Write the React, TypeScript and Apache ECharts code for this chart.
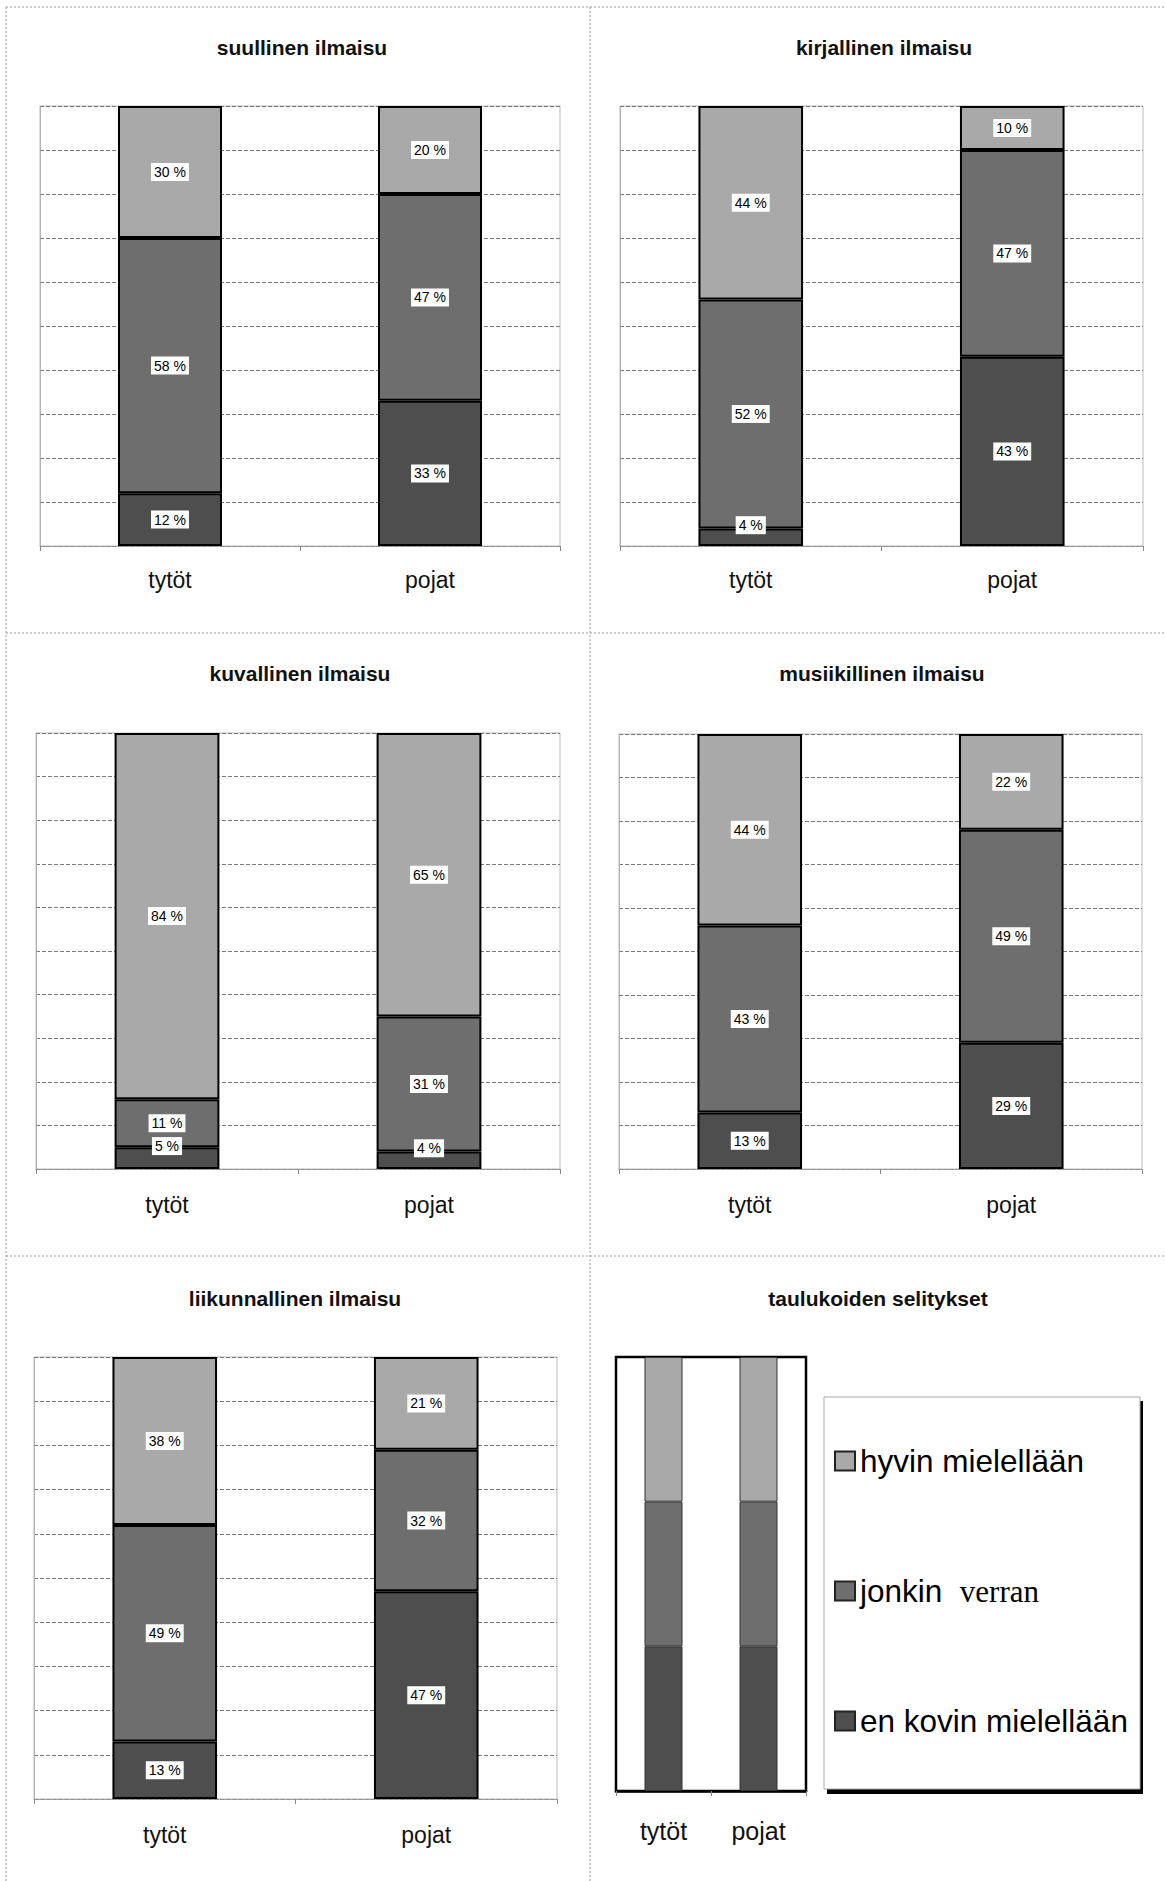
import React, { useEffect, useRef } from "react";
import * as echarts from "echarts";

// ---- data ----
const categories = ["tytöt", "pojat"];
const seriesNames = ["hyvin mielellään", "jonkin verran", "en kovin mielellään"];
const panelTitles = [
  "suullinen ilmaisu",
  "kirjallinen ilmaisu",
  "kuvallinen ilmaisu",
  "musiikillinen ilmaisu",
  "liikunnallinen ilmaisu",
  "taulukoiden selitykset",
];
// [tytöt, pojat] per panel
const suullinenHyvin = [30, 20];
const suullinenJonkin = [58, 47];
const suullinenEnKovin = [12, 33];
const kirjallinenHyvin = [44, 10];
const kirjallinenJonkin = [52, 47];
const kirjallinenEnKovin = [4, 43];
const kuvallinenHyvin = [84, 65];
const kuvallinenJonkin = [11, 31];
const kuvallinenEnKovin = [5, 4];
const musiikillinenHyvin = [44, 22];
const musiikillinenJonkin = [43, 49];
const musiikillinenEnKovin = [13, 29];
const liikunnallinenHyvin = [38, 21];
const liikunnallinenJonkin = [49, 32];
const liikunnallinenEnKovin = [13, 47];
const legendSample = [1, 1];

const panelData = [
  [suullinenHyvin, suullinenJonkin, suullinenEnKovin],
  [kirjallinenHyvin, kirjallinenJonkin, kirjallinenEnKovin],
  [kuvallinenHyvin, kuvallinenJonkin, kuvallinenEnKovin],
  [musiikillinenHyvin, musiikillinenJonkin, musiikillinenEnKovin],
  [liikunnallinenHyvin, liikunnallinenJonkin, liikunnallinenEnKovin],
];

// ---- layout / style ----
const FONT = "'Liberation Sans', Arial, Helvetica, sans-serif";
const COLORS = ["#a9a9a9", "#6e6e6e", "#4e4e4e"]; // hyvin, jonkin, en kovin
const grids = [
  { left: 40, top: 106, width: 520, height: 440 },
  { left: 620, top: 106, width: 523, height: 440 },
  { left: 36, top: 733, width: 524, height: 436 },
  { left: 619, top: 734, width: 523, height: 435 },
  { left: 34, top: 1357, width: 523, height: 442 },
  { left: 616, top: 1357, width: 190, height: 434 },
];
const titlePos = [
  [302, 48],
  [884, 48],
  [300, 674],
  [882, 674],
  [295, 1299],
  [878, 1299],
];
const labelMargins = [22, 22, 24, 24, 24, 27];

export default function App() {
  const ref = useRef<HTMLDivElement>(null);
  useEffect(() => {
    document.body.style.margin = "0";
    const chart = echarts.init(ref.current!, null, { renderer: "svg" });

    const xAxis: any[] = [];
    const yAxis: any[] = [];
    const series: any[] = [];

    grids.forEach((g, i) => {
      const isLegendPanel = i === 5;
      xAxis.push({
        type: "category",
        gridIndex: i,
        data: categories,
        axisLine: {
          show: true,
          lineStyle: isLegendPanel
            ? { color: "#000", width: 2.5 }
            : { color: "#999", type: "dotted" },
        },
        axisTick: { show: true, length: 5, lineStyle: { color: "#888" } },
        axisLabel: {
          color: "#111",
          fontFamily: FONT,
          fontSize: isLegendPanel ? 25 : 23,
          margin: labelMargins[i],
        },
      });
      yAxis.push({
        type: "value",
        gridIndex: i,
        min: 0,
        max: isLegendPanel ? 3 : 100,
        interval: isLegendPanel ? 1 : 10,
        axisLabel: { show: false },
        axisTick: { show: false },
        axisLine: {
          show: !isLegendPanel,
          lineStyle: { color: "#aaa", type: "dotted" },
        },
        splitLine: {
          show: !isLegendPanel,
          lineStyle: { color: "#7a7a7a", type: [4, 2], width: 1 },
        },
      });
    });

    panelData.forEach((arrs, i) => {
      // stack from bottom: en kovin, jonkin, hyvin
      [2, 1, 0].forEach((k) => {
        series.push({
          type: "bar",
          name: seriesNames[k],
          xAxisIndex: i,
          yAxisIndex: i,
          stack: "p" + i,
          barWidth: "40%",
          data: arrs[k].map((v) =>
            v < 8 ? { value: v, label: { offset: [0, -12] } } : v
          ),
          itemStyle: { color: COLORS[k], borderColor: "#000", borderWidth: 2 },
          label: {
            show: true,
            position: "inside",
            formatter: "{c} %",
            color: "#000",
            fontFamily: FONT,
            fontSize: 14,
            backgroundColor: "#fff",
            padding: [2, 3],
          },
        });
      });
    });

    [2, 1, 0].forEach((k) => {
      series.push({
        type: "bar",
        name: seriesNames[k],
        xAxisIndex: 5,
        yAxisIndex: 5,
        stack: "legendPanel",
        barWidth: "40%",
        data: legendSample,
        itemStyle: { color: COLORS[k], borderColor: "#333", borderWidth: 1 },
        label: { show: false },
      });
    });

    const divider = (x1: number, y1: number, x2: number, y2: number) => ({
      type: "line",
      shape: { x1, y1, x2, y2 },
      style: { stroke: "#999", lineWidth: 1, lineDash: [2, 2] },
      z: 0,
    });

    const option: any = {
      animation: false,
      backgroundColor: "#fff",
      title: panelTitles.map((t, i) => ({
        text: t,
        left: titlePos[i][0],
        top: titlePos[i][1] - 11,
        textAlign: "center",
        padding: 0,
        textStyle: {
          fontFamily: FONT,
          fontSize: 21,
          fontWeight: "bold",
          color: "#111",
        },
      })),
      grid: grids.map((g, i) => ({
        ...g,
        show: true,
        borderColor: i === 5 ? "#000" : "#bbb",
        borderWidth: i === 5 ? 2.5 : 1,
        backgroundColor: "transparent",
        containLabel: false,
      })),
      xAxis,
      yAxis,
      series,
      legend: {
        data: seriesNames,
        orient: "vertical",
        left: 834,
        top: 1443,
        padding: 0,
        itemGap: 94,
        itemWidth: 20,
        itemHeight: 19,
        icon: "rect",
        selectedMode: false,
        itemStyle: { borderWidth: 2, borderColor: "#222" },
        formatter: (name: string) =>
          name === "jonkin verran" ? "{a|jonkin}  {b|verran}" : name,
        textStyle: {
          fontFamily: FONT,
          fontSize: 31.5,
          lineHeight: 36,
          color: "#000",
          rich: {
            a: { fontFamily: FONT, fontSize: 31.5, lineHeight: 36, color: "#000" },
            b: {
              fontFamily: "'Liberation Serif', 'Times New Roman', serif",
              fontSize: 31,
              lineHeight: 36,
              color: "#000",
            },
          },
        },
        z: 5,
      },
      graphic: [
        divider(6, 7, 1165, 7),
        divider(6, 7, 6, 1881),
        divider(590, 7, 590, 1881),
        divider(6, 633, 1165, 633),
        divider(6, 1256, 1165, 1256),
        {
          type: "rect",
          shape: { x: 827, y: 1401, width: 316, height: 393 },
          style: { fill: "#000" },
          z: 1,
        },
        {
          type: "rect",
          shape: { x: 824, y: 1397, width: 316, height: 392 },
          style: { fill: "#fff", stroke: "#aaa", lineWidth: 1 },
          z: 2,
        },
      ],
    };
    chart.setOption(option);
    return () => chart.dispose();
  }, []);
  return <div ref={ref} style={{ width: 1165, height: 1881 }} />;
}
